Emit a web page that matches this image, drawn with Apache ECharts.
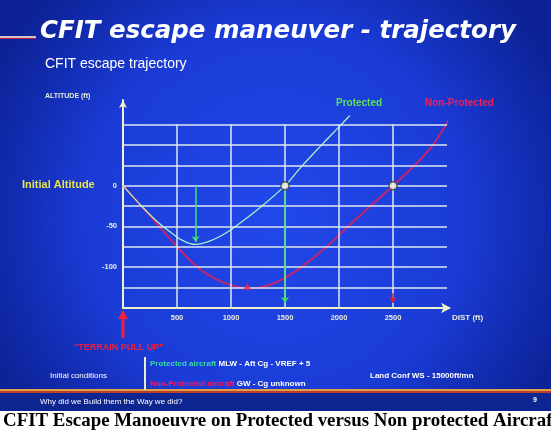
<!DOCTYPE html>
<html>
<head>
<meta charset="utf-8">
<script src="https://cdn.jsdelivr.net/npm/echarts@6/dist/echarts.min.js"></script>
<style>
  html, body { margin: 0; padding: 0; background: #fff; }
  #main { width: 551px; height: 433px; }
</style>
</head>
<body>
<div id="main"></div>
<script>
// x axis (distance, ft) and y axis (altitude, ft)
var distLabels = [500, 1000, 1500, 2000, 2500];
var altGrid = [75, 50, 25, 0, -25, -50, -75, -100, -125];
var altLabels = [0, -50, -100];

// protected aircraft trajectory
var protectedDist = [0, 150, 300, 450, 550, 670, 800, 900, 1000, 1250, 1500, 1650, 1840, 2000, 2100];
var protectedAlt  = [0, -22, -42, -58, -67, -72, -68, -62, -54, -29, 0, 23, 50, 72, 86];

// non protected aircraft trajectory
var nonProtDist = [0, 224, 504, 690, 850, 1000, 1150, 1300, 1500, 1700, 1900, 2100, 2300, 2500, 2700, 2870, 3040];
var nonProtAlt  = [0, -33, -75, -100, -114, -122, -126, -124, -113, -95, -73, -48, -24, 0, 25, 50, 86];

// points where each trajectory gets back to initial altitude
var recoveryPoints = [[1500, 0], [2500, 0]];

function pairs(xs, ys) {
  var out = [];
  for (var i = 0; i < xs.length; i++) out.push([xs[i], ys[i]]);
  return out;
}

var gridLines = [];
altGrid.forEach(function (a) {
  gridLines.push([{coord: [0, a]}, {coord: [3000, a]}]);
});
distLabels.forEach(function (d) {
  gridLines.push([{coord: [d, -150]}, {coord: [d, 75]}]);
});

var green = '#a6f2c4';
var red = '#c4246a';

var bgGraphics = [
  {
    type: 'rect', z: -10, silent: true,
    shape: {x: 0, y: 0, width: 551, height: 393},
    style: {
      fill: new echarts.graphic.RadialGradient(0.5, 0.55, 0.8, [
        {offset: 0, color: '#2248ea'},
        {offset: 0.6, color: '#1a3bd6'},
        {offset: 1, color: '#0c2296'}
      ])
    }
  },
  {type: 'rect', z: -10, silent: true, shape: {x: 0, y: 389, width: 551, height: 2}, style: {fill: '#e0a048'}},
  {type: 'rect', z: -10, silent: true, shape: {x: 0, y: 391, width: 551, height: 2}, style: {fill: '#b8402a'}},
  {type: 'rect', z: -10, silent: true, shape: {x: 0, y: 393, width: 551, height: 18}, style: {fill: '#0d2590'}},
  {type: 'rect', z: -10, silent: true, shape: {x: 0, y: 411, width: 551, height: 22}, style: {fill: '#ffffff'}},
  {type: 'rect', z: -9, silent: true, shape: {x: 0, y: 36, width: 36, height: 2}, style: {fill: '#d8c0cc'}},
  {type: 'rect', z: -9, silent: true, shape: {x: 0, y: 38, width: 36, height: 1}, style: {fill: '#b02040'}},
  {type: 'rect', z: -9, silent: true, shape: {x: 144, y: 357, width: 2, height: 33}, style: {fill: '#e8ecd0'}}
];

var myChart = echarts.init(document.getElementById('main'));
myChart.setOption({
  animation: false,
  graphic: bgGraphics,
  title: [
    {text: 'CFIT escape maneuver - trajectory', left: 40, top: 19, padding: 0,
      textStyle: {color: '#fff', fontSize: 24.5, fontWeight: 'bold', fontStyle: 'italic', fontFamily: 'DejaVu Sans'}},
    {text: 'CFIT escape trajectory', left: 45, top: 57, padding: 0,
      textStyle: {color: '#fff', fontSize: 14, fontWeight: 'normal', fontFamily: 'Liberation Sans'}},
    {text: 'ALTITUDE (ft)', left: 45, top: 93, padding: 0,
      textStyle: {color: '#e8ecd8', fontSize: 7, fontWeight: 'bold', fontFamily: 'Liberation Sans'}},
    {text: 'DIST (ft)', left: 452, top: 314, padding: 0,
      textStyle: {color: '#e8ecd8', fontSize: 8, fontWeight: 'bold', fontFamily: 'Liberation Sans'}},
    {text: 'Initial Altitude', left: 22, top: 179, padding: 0,
      textStyle: {color: '#e6e24a', fontSize: 11, fontWeight: 'bold', fontFamily: 'Liberation Sans'}},
    {text: 'Protected', left: 336, top: 98, padding: 0,
      textStyle: {color: '#5ee05a', fontSize: 10, fontWeight: 'bold', fontFamily: 'Liberation Sans'}},
    {text: 'Non-Protected', left: 425, top: 98, padding: 0,
      textStyle: {color: '#f0205a', fontSize: 10, fontWeight: 'bold', fontFamily: 'Liberation Sans'}},
    {text: '"TERRAIN PULL UP"', left: 74, top: 343, padding: 0,
      textStyle: {color: '#f0203c', fontSize: 9, fontWeight: 'bold', fontFamily: 'Liberation Sans'}},
    {text: 'Initial conditions', left: 50, top: 372, padding: 0,
      textStyle: {color: '#ffffff', fontSize: 8, fontWeight: 'normal', fontFamily: 'Liberation Sans'}},
    {text: '{g|Protected aircraft} {w|MLW - Aft Cg - VREF + 5}', left: 150, top: 360, padding: 0,
      textStyle: {fontSize: 8, fontFamily: 'Liberation Sans', rich: {
        g: {color: '#3ad8a8', fontSize: 8},
        w: {color: '#ffffff', fontSize: 8, fontWeight: 'bold'}
      }}},
    {text: '{r|Non-Protected aircraft} {w|GW - Cg unknown}', left: 150, top: 380, padding: 0,
      textStyle: {fontSize: 8, fontFamily: 'Liberation Sans', rich: {
        r: {color: '#e8206a', fontSize: 8},
        w: {color: '#ffffff', fontSize: 8, fontWeight: 'bold'}
      }}},
    {text: 'Land Conf WS - 15000ft/mn', left: 370, top: 372, padding: 0,
      textStyle: {color: '#ffffff', fontSize: 8, fontWeight: 'bold', fontFamily: 'Liberation Sans'}},
    {text: 'Why did we Build them the Way we did?', left: 40, top: 398, padding: 0,
      textStyle: {color: '#ffffff', fontSize: 8, fontWeight: 'normal', fontFamily: 'Liberation Sans'}},
    {text: '9', left: 533, top: 397, padding: 0,
      textStyle: {color: '#ffffff', fontSize: 7, fontWeight: 'bold', fontFamily: 'Liberation Sans'}},
    {text: 'CFIT Escape Manoeuvre on Protected versus Non protected Aircraft', left: 3, top: 412, padding: 0,
      textStyle: {color: '#000', fontSize: 18.9, fontWeight: 'bold', fontFamily: 'Liberation Serif'}}
  ],
  grid: {left: 123, right: 104, top: 100, bottom: 125, containLabel: false},
  xAxis: {
    type: 'value', min: 0, max: 3000, interval: 500,
    axisLine: {show: true, onZero: false, lineStyle: {color: '#eef2c8', width: 2},
      symbol: ['none', 'arrow'], symbolSize: [8, 10], symbolOffset: [0, 4]},
    axisTick: {show: false},
    splitLine: {show: false},
    axisLabel: {
      color: '#e8ecd8', fontSize: 7.5, fontWeight: 'bold', fontFamily: 'Liberation Sans', margin: 6,
      formatter: function (v) { return distLabels.indexOf(v) >= 0 ? String(v) : ''; }
    }
  },
  yAxis: {
    type: 'value', min: -150, max: 105, interval: 50,
    axisLine: {show: true, onZero: false, lineStyle: {color: '#eef2c8', width: 2},
      symbol: ['none', 'arrow'], symbolSize: [6, 8]},
    axisTick: {show: false},
    splitLine: {show: false},
    axisLabel: {
      color: '#e8ecd8', fontSize: 7.5, fontWeight: 'bold', fontFamily: 'Liberation Sans', margin: 6,
      formatter: function (v) { return altLabels.indexOf(v) >= 0 ? String(v) : ''; }
    }
  },
  series: [
    {
      name: 'grid', type: 'line', data: [], z: 1, silent: true,
      markLine: {
        silent: true, symbol: ['none', 'none'], label: {show: false},
        lineStyle: {color: '#dfe8f2', width: 1.5, type: 'solid'},
        data: gridLines
      }
    },
    {
      name: 'Non-Protected', type: 'line', z: 3, clip: false,
      data: pairs(nonProtDist, nonProtAlt), smooth: 0.4, showSymbol: false,
      lineStyle: {color: red, width: 2}
    },
    {
      name: 'Protected', type: 'line', z: 4, clip: false,
      data: pairs(protectedDist, protectedAlt), smooth: 0.4, showSymbol: false,
      lineStyle: {color: green, width: 1.3}
    },
    {
      name: 'arrows', type: 'line', data: [], z: 5, clip: false, silent: true,
      markLine: {
        silent: true, symbol: ['none', 'arrow'], symbolSize: 6, label: {show: false},
        data: [
          [{coord: [672, 0], lineStyle: {color: '#3ee070', width: 1.5, type: 'solid'}}, {coord: [672, -69]}],
          [{coord: [1500, -4], lineStyle: {color: '#3ee070', width: 1.5, type: 'solid'}}, {coord: [1500, -144]}],
          [{coord: [2500, -132], lineStyle: {color: '#d0204a', width: 1.5, type: 'solid'}}, {coord: [2500, -144]}]
        ]
      }
    },
    {
      name: 'recovery', type: 'scatter', z: 6, silent: true,
      data: recoveryPoints, symbol: 'circle', symbolSize: 8,
      itemStyle: {
        color: '#f4f4dc',
        borderColor: function (p) { return p.dataIndex === 0 ? '#60e070' : '#e05080'; },
        borderWidth: 1.5
      }
    },
    {
      name: 'minimum', type: 'scatter', z: 6, silent: true,
      data: [[1150, -123]], symbol: 'triangle', symbolSize: 7,
      itemStyle: {color: '#f0204a'}
    }
  ]
});

// "terrain pull up" arrow under the origin
var origin = myChart.convertToPixel({gridIndex: 0}, [0, -150]);
myChart.setOption({
  graphic: bgGraphics.concat([
    {type: 'line', silent: true, z: 10,
      shape: {x1: origin[0], y1: origin[1] + 30, x2: origin[0], y2: origin[1] + 9},
      style: {stroke: '#f0203c', lineWidth: 3}},
    {type: 'polygon', silent: true, z: 10,
      shape: {points: [[origin[0], origin[1] + 2], [origin[0] - 5, origin[1] + 11], [origin[0] + 5, origin[1] + 11]]},
      style: {fill: '#f0203c'}}
  ])
});
</script>
</body>
</html>
